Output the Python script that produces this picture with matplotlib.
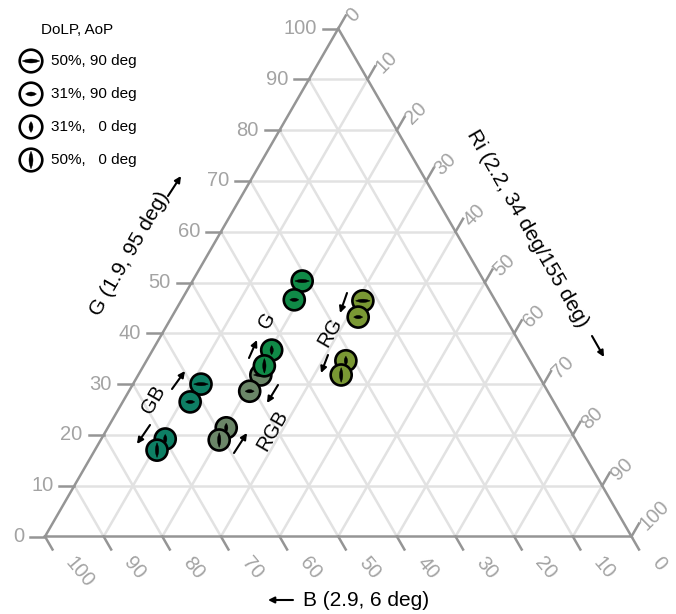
import numpy as np
import matplotlib
matplotlib.use("Agg")
import matplotlib.pyplot as plt
from matplotlib.patches import Circle, Polygon

plt.rcParams['font.family'] = ['Liberation Sans', 'DejaVu Sans']

# ---------------- data (percent) ----------------
group_names = ['GB', 'RGB', 'G', 'RG']          # drawing order
group_colors = ['#0e7f64', '#6b8668', '#108a47', '#7a9834']
dolp_values = [50, 31, 31, 50]                  # DoLP per point within a group (%)
aop_values = [90, 90, 0, 0]                     # AoP per point within a group (deg)

GB_G = [30.0, 26.5, 19.2, 17.0]
GB_Ri = [11.6, 11.5, 10.9, 10.6]
GB_B = [58.4, 62.0, 69.9, 72.4]

RGB_G = [31.8, 28.6, 21.4, 19.0]
RGB_Ri = [20.9, 20.6, 20.2, 20.2]
RGB_B = [47.3, 50.8, 58.4, 60.8]

G_G = [50.3, 46.6, 36.7, 33.6]
G_Ri = [18.7, 19.2, 20.3, 20.6]
G_B = [31.0, 34.2, 43.0, 45.8]

RG_G = [46.4, 43.2, 34.6, 31.8]
RG_Ri = [31.0, 31.8, 34.0, 34.6]
RG_B = [22.6, 25.0, 31.4, 33.6]

tick_values = [0, 10, 20, 30, 40, 50, 60, 70, 80, 90, 100]
legend_title = 'DoLP, AoP'
legend_labels = ['50%, 90 deg', '31%, 90 deg', '31%,   0 deg', '50%,   0 deg']
legend_dolp = [50, 31, 31, 50]
legend_aop = [90, 90, 0, 0]

label_G = 'G (1.9, 95 deg)'
label_Ri = 'Ri (2.2, 34 deg/155 deg)'
label_B = 'B (2.9, 6 deg)'

# ---------------- geometry ----------------
W, Hpx = 676, 614
X0, Y0, SC = 45.0, 536.5, 586.5     # pixel position of B-vertex and side length
H = np.sqrt(3) / 2

def P(px_, py_):
    return ((px_ - X0) / SC, (Y0 - py_) / SC)

def tern(g, r, b=None):
    g = np.asarray(g, float); r = np.asarray(r, float)
    if b is not None:
        s = g + r + np.asarray(b, float)
        g = g / s; r = r / s
    else:
        g = g / 100.0; r = r / 100.0
    return r + g / 2, g * H

def px(n):
    return n / SC

fig = plt.figure(figsize=(W / 100, Hpx / 100), dpi=100)
ax = fig.add_axes([0, 0, 1, 1])
ax.set_xlim(-X0 / SC, (W - X0) / SC)
ax.set_ylim((Y0 - Hpx) / SC, Y0 / SC)
ax.set_aspect('equal')
ax.axis('off')

grid_c = '#e2e2e2'
axis_c = '#959595'
tick_c = '#a3a3a3'

# grid
for v in tick_values[1:-1]:
    f = v
    x, y = tern([f, f], [0, 100 - f]); ax.plot(x, y, color=grid_c, lw=1.8, zorder=1, solid_capstyle='butt')
    x, y = tern([0, 100 - f], [f, f]); ax.plot(x, y, color=grid_c, lw=1.8, zorder=1, solid_capstyle='butt')
    x, y = tern([0, 100 - f], [100 - f, 0]); ax.plot(x, y, color=grid_c, lw=1.8, zorder=1, solid_capstyle='butt')

# triangle edges
x, y = tern([0, 0, 100, 0], [0, 100, 0, 0])
ax.plot(x, y, color=axis_c, lw=1.8, zorder=2, solid_joinstyle='miter')

tl = px(15)
fs_tick = 14.5
# left ticks (G)
for v in tick_values:
    x, y = tern(v, 0)
    ax.plot([x, x - tl], [y, y], color=axis_c, lw=1.8, zorder=2)
    ax.text(x - tl - px(6), y, str(v), ha='right', va='center', fontsize=fs_tick, color=tick_c)
# right ticks (Ri)
d = np.array([0.5, H])
for v in tick_values:
    x, y = tern(100 - v, v)
    e = np.array([x, y]) + d * tl
    ax.plot([x, e[0]], [y, e[1]], color=axis_c, lw=1.8, zorder=2)
    t = e + np.array([px(4), -px(4)])
    ax.text(t[0], t[1], str(v), ha='left', va='center', rotation=45, rotation_mode='anchor',
            fontsize=fs_tick, color=tick_c)
# bottom ticks (B)
d2 = np.array([0.5, -H])
for v in tick_values:
    x, y = tern(0, 100 - v)
    e = np.array([x, y]) + d2 * tl
    ax.plot([x, e[0]], [y, e[1]], color=axis_c, lw=1.8, zorder=2)
    t = e + d2 * px(9) + np.array([px(12), -px(2)])
    ax.text(t[0], t[1], str(v), ha='left', va='center', rotation=-50, rotation_mode='anchor',
            fontsize=fs_tick, color=tick_c)

# ---------------- markers ----------------
R = px(10.5)

def lens(cx, cy, dolp, aop, scale=1.0, z=5):
    L = px(0.29 * dolp * scale)
    T = px(3.3 * scale)
    s = np.linspace(-1, 1, 41)
    xs = s * L / 2
    ts = T / 2 * (1 - s ** 2)
    pts = np.concatenate([np.c_[xs, ts], np.c_[xs[::-1], -ts[::-1]]])
    ang = np.deg2rad(90 - aop)
    rot = np.array([[np.cos(ang), -np.sin(ang)], [np.sin(ang), np.cos(ang)]])
    pts = pts @ rot.T + np.array([cx, cy])
    ax.add_patch(Polygon(pts, closed=True, facecolor='black', edgecolor='black', lw=0.3, zorder=z))

def marker(cx, cy, color, dolp, aop, radius=R, z=5, scale=1.0):
    ax.add_patch(Circle((cx, cy), radius, facecolor=color, edgecolor='black', lw=1.9, zorder=z))
    lens(cx, cy, dolp, aop, scale=scale, z=z + 0.1)

groups = {'GB': (GB_G, GB_Ri, GB_B), 'RGB': (RGB_G, RGB_Ri, RGB_B),
          'G': (G_G, G_Ri, G_B), 'RG': (RG_G, RG_Ri, RG_B)}
z = 5
for name, col in zip(group_names, group_colors):
    gv, rv, bv = groups[name]
    xs, ys = tern(gv, rv, bv)
    for i in range(len(gv)):
        marker(xs[i], ys[i], col, dolp_values[i], aop_values[i], z=z)
        z += 0.2

# ---------------- legend ----------------
lx, ly = P(41, 30)
ax.text(lx, ly, legend_title, ha='left', va='center', fontsize=11)
for i, (lab, dl, ao) in enumerate(zip(legend_labels, legend_dolp, legend_aop)):
    cx, cy = P(31, 61 + i * 33)
    marker(cx, cy, 'white', dl, ao, radius=px(11.3), z=5, scale=1.2)
    tx, ty = P(51, 61 + i * 33)
    ax.text(tx, ty, lab, ha='left', va='center', fontsize=11)

# ---------------- axis labels ----------------
fs_lab = 15
ax.text(*P(130, 254), label_G, rotation=60, ha='center', va='center', fontsize=fs_lab, rotation_mode='anchor')
ax.text(*P(527, 229), label_Ri, rotation=-60, ha='center', va='center', fontsize=fs_lab, rotation_mode='anchor')
ax.text(*P(366, 601), label_B, ha='center', va='center', fontsize=fs_lab)

arrow_kw = dict(arrowstyle='-|>', color='black', lw=1.5, mutation_scale=9, shrinkA=0, shrinkB=0)
def arrow(p0, p1):
    ax.annotate('', xy=P(*p1), xytext=P(*p0), arrowprops=arrow_kw, zorder=8)

arrow((168, 196), (181, 176))
arrow((592, 336), (604, 357))
arrow((293, 600), (268, 600))

# group labels and arrows
fs_grp = 14.5
ax.text(*P(267, 320), 'G', rotation=60, ha='center', va='center', fontsize=fs_grp, rotation_mode='anchor')
ax.text(*P(153, 400), 'GB', rotation=60, ha='center', va='center', fontsize=fs_grp, rotation_mode='anchor')
ax.text(*P(272, 430), 'RGB', rotation=60, ha='center', va='center', fontsize=fs_grp, rotation_mode='anchor')
ax.text(*P(330, 332), 'RG', rotation=60, ha='center', va='center', fontsize=fs_grp, rotation_mode='anchor')

arrow((249, 358), (257, 340))
arrow((278, 385), (267, 403))
arrow((234, 453), (247, 433))
arrow((172, 389), (185, 371))
arrow((150, 425), (137, 444))
arrow((347, 293), (340, 313))
arrow((328, 355), (321, 373))

fig.savefig('out.png', dpi=100)
